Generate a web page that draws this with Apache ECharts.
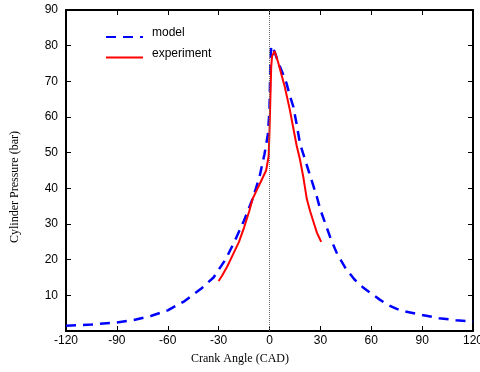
<!DOCTYPE html>
<html>
<head>
<meta charset="utf-8">
<script src="https://cdn.jsdelivr.net/npm/echarts@6/dist/echarts.min.js"></script>
<style>
  html, body { margin: 0; padding: 0; background: #fff; }
  #chart { width: 480px; height: 372px; }
</style>
</head>
<body>
<div id="chart"></div>
<script>
// Model curve (crank angle, pressure)
const modelAngle = [-120, -105, -90, -80, -70, -60, -50, -40, -33, -26, -21, -15, -10, -6, -3, -1, 0, 0.5, 1,
  3, 5, 8, 10, 12, 14, 16, 18, 20, 22, 25, 28, 30, 33, 36, 40, 45, 50, 55, 60, 65, 70, 75, 80, 90, 100, 110, 120];
const modelPressure = [1.5, 1.8, 2.4, 3.1, 4.2, 5.8, 8.4, 12, 15, 20, 24.7, 31, 37, 43, 49.5, 55, 62, 75, 80,
  78.3, 75.5, 72, 69.5, 66, 63, 58, 52.5, 49.5, 46.5, 42, 37.5, 34, 30, 26, 21.5, 17.5, 14.5, 12.3, 10.5, 8.8, 7.3, 6.2, 5.5, 4.5, 3.6, 3.0, 2.6];

// Experiment curve
const expAngle = [-30, -28, -25, -22, -18, -15, -12, -10, -8, -5, -2, -0.5, 0, 0.5, 1, 1.5, 3,
  5, 7, 9, 12, 14, 16, 18, 20, 22, 24, 26, 28, 29, 30.5];
const expPressure = [14, 15.5, 18, 21, 25, 29, 33.5, 37, 39, 42, 45, 49, 56, 65, 74, 77, 78.5,
  75.5, 72, 68.5, 62, 57, 52, 48, 43, 37, 33.5, 30.5, 27.5, 26.5, 25];

const xTicks = [-120, -90, -60, -30, 0, 30, 60, 90, 120];

const pair = (xs, ys) => xs.map((x, i) => [x, ys[i]]);

const sans = "'Liberation Sans', Arial, sans-serif";
const serif = "'Liberation Serif', 'Times New Roman', serif";

const chart = echarts.init(document.getElementById('chart'));

const frameLine = { show: true, onZero: false, lineStyle: { color: '#000', width: 2 } };
const tickIn = { show: true, inside: true, length: 5, lineStyle: { color: '#000', width: 1 } };

const option = {
  animation: false,
  backgroundColor: '#fff',
  grid: { left: 66, right: 7, top: 10, bottom: 41, containLabel: false, outerBoundsMode: 'none' },
  legend: {
    orient: 'vertical',
    left: 100,
    top: 22,
    itemWidth: 37,
    itemHeight: 14,
    itemGap: 5,
    data: ['model', 'experiment'],
    itemStyle: { opacity: 0 },
    formatter: '{t|{name}}',
    textStyle: {
      fontFamily: sans, fontSize: 12, color: '#000',
      rich: { t: { fontFamily: sans, fontSize: 12, color: '#000', padding: [0, 0, 8, 4] } }
    }
  },
  xAxis: [
    {
      type: 'value', min: -120, max: 120, interval: 30, position: 'bottom',
      axisLine: frameLine, axisTick: tickIn, splitLine: { show: false },
      axisLabel: { color: '#000', fontFamily: sans, fontSize: 12, margin: 4,
        formatter: v => xTicks.includes(v) ? String(v) : '' }
    },
    {
      type: 'value', min: -120, max: 120, interval: 30, position: 'top',
      axisLine: frameLine, axisTick: tickIn, splitLine: { show: false }, axisLabel: { show: false }
    }
  ],
  yAxis: [
    {
      type: 'value', min: 0, max: 90, interval: 10, position: 'left',
      axisLine: frameLine, axisTick: tickIn, splitLine: { show: false },
      axisLabel: { color: '#000', fontFamily: sans, fontSize: 12, margin: 8, showMinLabel: false }
    },
    {
      type: 'value', min: 0, max: 90, interval: 10, position: 'right',
      axisLine: frameLine, axisTick: tickIn, splitLine: { show: false }, axisLabel: { show: false }
    }
  ],
  graphic: [
    {
      type: 'text', left: 'center', top: 353,
      style: { text: 'Crank Angle (CAD)', font: '12px ' + serif, fill: '#000' }
    },
    {
      type: 'text', x: 15, y: 187, rotation: Math.PI / 2,
      style: { text: 'Cylinder Pressure (bar)', font: '12px ' + serif, fill: '#000',
        textAlign: 'center', textVerticalAlign: 'middle' }
    }
  ],
  series: [
    {
      name: 'model', type: 'line', data: pair(modelAngle, modelPressure),
      symbol: 'none', color: '#0000ff',
      lineStyle: { color: '#0000ff', width: 2.5, type: [10, 7] },
      markLine: {
        silent: true, symbol: 'none', label: { show: false },
        lineStyle: { color: '#666', type: 'dotted', width: 1 },
        data: [{ xAxis: 0 }]
      }
    },
    {
      name: 'experiment', type: 'line', data: pair(expAngle, expPressure),
      symbol: 'none', color: '#ff0000',
      lineStyle: { color: '#ff0000', width: 2 }
    }
  ]
};

chart.setOption(option);
</script>
</body>
</html>
